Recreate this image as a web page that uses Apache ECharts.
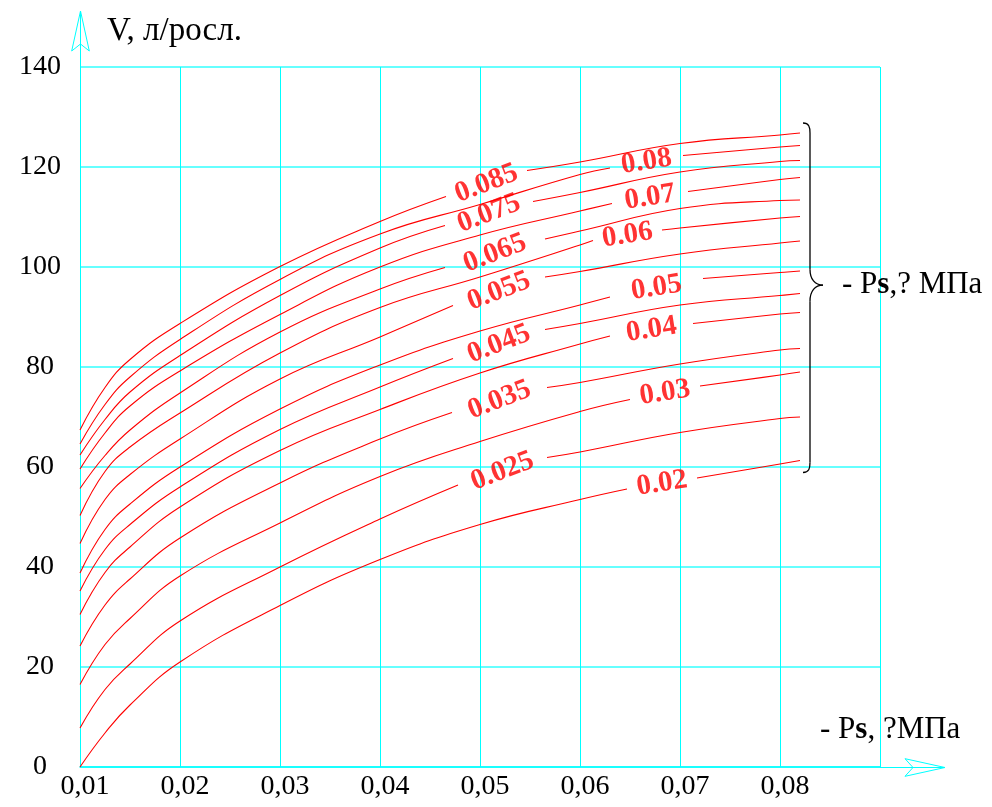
<!DOCTYPE html>
<html>
<head>
<meta charset="utf-8">
<script src="https://cdn.jsdelivr.net/npm/echarts@6/dist/echarts.min.js"></script>
<style>
  html, body { margin: 0; padding: 0; background: #ffffff; }
  #chart { width: 992px; height: 807px; }
</style>
</head>
<body>
<div id="chart"></div>
<script>
// Pressure Ps (MPa) along the horizontal axis where each curve is sampled
const X_POINTS = [0.01, 0.0125, 0.015, 0.02, 0.03, 0.04, 0.05, 0.06, 0.07, 0.08, 0.082];

// Curve levels (Ps, MPa)
const PS_LEVELS = ['0.02', '0.025', '0.03', '0.035', '0.04', '0.045', '0.05',
                   '0.055', '0.06', '0.065', '0.07', '0.075', '0.08', '0.085'];

// V, л/росл. for each level at X_POINTS
const V_020 = [0, 6.8, 12.4, 21.0, 32.3, 41.5, 48.5, 53.5, 57.0, 60.6, 61.3];
const V_025 = [7.8, 15.5, 20.6, 29.2, 40.0, 49.6, 57.7, 63.0, 66.9, 69.7, 70.0];
const V_030 = [16.5, 24.5, 29.7, 38.2, 48.8, 58.1, 65.1, 71.1, 75.6, 78.4, 79.0];
const V_035 = [24.2, 32.4, 37.6, 45.8, 56.8, 65.6, 72.3, 76.9, 80.6, 83.4, 83.7];
const V_040 = [30.5, 38.9, 44.0, 52.0, 63.3, 71.5, 78.8, 84.6, 88.4, 90.6, 90.9];
const V_045 = [35.2, 43.5, 48.5, 56.0, 67.5, 76.0, 83.3, 88.7, 92.4, 94.3, 94.7];
const V_050 = [38.8, 47.5, 52.6, 60.0, 71.6, 80.4, 87.2, 92.4, 97.0, 98.9, 99.2];
const V_055 = [44.7, 53.5, 58.5, 65.6, 77.6, 86.0, 93.9, 99.1, 102.6, 104.8, 105.2];
const V_060 = [50.3, 59.1, 64.0, 70.8, 82.8, 91.9, 98.0, 104.4, 107.8, 109.8, 110.1];
const V_065 = [55.7, 62.3, 67.4, 74.8, 87.0, 95.6, 101.8, 107.2, 111.7, 113.3, 113.4];
const V_070 = [59.6, 66.8, 72.2, 79.2, 90.5, 100.0, 106.4, 111.2, 114.9, 117.5, 117.9];
const V_075 = [62.4, 69.5, 75.0, 82.3, 94.3, 103.8, 110.2, 114.9, 119.0, 121.1, 121.3];
const V_080 = [64.6, 72.5, 78.0, 85.5, 97.5, 106.6, 112.5, 118.5, 122.2, 124.0, 124.3];
const V_085 = [67.4, 75.9, 81.5, 88.7, 100.1, 109.1, 116.2, 121.0, 124.7, 126.4, 126.8];

// Break in each curve where its label sits: [Ps start, V start, Ps end, V end]
const GAP_020 = [0.0647, 55.6, 0.0717, 57.8];
const GAP_025 = [0.0478, 56.4, 0.0567, 61.9];
const GAP_030 = [0.0650, 73.5, 0.0720, 76.2];
const GAP_035 = [0.0472, 70.9, 0.0567, 75.9];
const GAP_040 = [0.0630, 86.2, 0.0713, 88.7];
const GAP_045 = [0.0473, 81.7, 0.0565, 87.5];
const GAP_050 = [0.0630, 94.0, 0.0723, 97.7];
const GAP_055 = [0.0473, 92.3, 0.0565, 98.0];
const GAP_060 = [0.0613, 105.3, 0.0682, 107.4];
const GAP_065 = [0.0465, 99.9, 0.0565, 105.6];
const GAP_070 = [0.0632, 112.7, 0.0708, 115.1];
const GAP_075 = [0.0465, 108.3, 0.0553, 113.1];
const GAP_080 = [0.0630, 119.8, 0.0703, 122.3];
const GAP_085 = [0.0466, 114.1, 0.0547, 119.3];

// Axis ticks
const X_TICKS = [0.01, 0.02, 0.03, 0.04, 0.05, 0.06, 0.07, 0.08];
const Y_TICKS = [0, 20, 40, 60, 80, 100, 120, 140];

const CURVE_VALUES = [V_020, V_025, V_030, V_035, V_040, V_045, V_050,
                      V_055, V_060, V_065, V_070, V_075, V_080, V_085];
const CURVE_GAPS = [GAP_020, GAP_025, GAP_030, GAP_035, GAP_040, GAP_045, GAP_050,
                    GAP_055, GAP_060, GAP_065, GAP_070, GAP_075, GAP_080, GAP_085];

const CYAN = '#00ffff';
const CYAN_SOFT = '#66ffff';
const RED = '#ff0000';
const SERIF = '"Liberation Serif", "Times New Roman", serif';

const X_MIN = 0.01, X_MAX = 0.09, Y_MIN = 0, Y_MAX = 140;

const series = [];
const labelItems = [];
PS_LEVELS.forEach((ps, k) => {
  const vals = CURVE_VALUES[k];
  const gap = CURVE_GAPS[k];
  const pts = X_POINTS.map((x, i) => [x, vals[i]]);
  const left = pts.filter(p => p[0] < gap[0]).concat([[gap[0], gap[1]]]);
  const right = [[gap[2], gap[3]]].concat(pts.filter(p => p[0] > gap[2]));
  [left, right].forEach(seg => {
    series.push({
      type: 'line',
      data: seg,
      smooth: 0.45,
      symbol: 'none',
      silent: true,
      lineStyle: { color: RED, width: 1.1 },
      z: 3
    });
  });
  // Even-thousandth levels are labelled further right with a flatter tilt
  const oddLevel = k % 2 === 1;
  labelItems.push({
    value: [(gap[0] + gap[2]) / 2, (gap[1] + gap[3]) / 2],
    name: ps,
    label: { rotate: oddLevel ? 21 : 9 }
  });
});

series.push({
  type: 'scatter',
  data: labelItems,
  symbolSize: 0,
  silent: true,
  z: 5,
  label: {
    show: true,
    position: 'inside',
    formatter: p => p.name,
    color: RED,
    fontFamily: SERIF,
    fontWeight: 'bold',
    fontSize: 29
  }
});

const chart = echarts.init(document.getElementById('chart'), null, { renderer: 'canvas' });

const option = {
  animation: false,
  backgroundColor: '#ffffff',
  grid: { left: 80, right: 112, top: 67, bottom: 40, containLabel: false },
  xAxis: {
    type: 'value',
    min: X_MIN, max: X_MAX, interval: 0.01,
    axisLine: { show: true, lineStyle: { color: CYAN, width: 1.5 } },
    axisTick: { show: false },
    splitLine: { show: true, lineStyle: { color: CYAN, width: 1 } },
    axisLabel: {
      color: '#000000', fontFamily: SERIF, fontSize: 28, margin: 6,
      padding: [0, 0, 0, 10],
      formatter: v => {
        const hit = X_TICKS.find(t => Math.abs(t - v) < 1e-6);
        return hit === undefined ? '' : hit.toFixed(2).replace('.', ',');
      }
    }
  },
  yAxis: {
    type: 'value',
    min: Y_MIN, max: Y_MAX, interval: 20,
    axisLine: { show: true, lineStyle: { color: CYAN, width: 1 } },
    axisTick: { show: false },
    splitLine: { show: true, lineStyle: { color: CYAN_SOFT, width: 2 } },
    axisLabel: {
      color: '#000000', fontFamily: SERIF, fontSize: 28, margin: 40, align: 'center',
      formatter: v => (Y_TICKS.indexOf(v) >= 0 ? String(v) : '')
    }
  },
  series: series
};

chart.setOption(option);

// Decorations placed from the axes' own pixel mapping
const xEnd = chart.convertToPixel({ gridIndex: 0 }, [X_MAX, Y_MIN]);
const yEnd = chart.convertToPixel({ gridIndex: 0 }, [X_MIN, Y_MAX]);
const lastX = X_POINTS[X_POINTS.length - 1];
const topEnd = chart.convertToPixel({ gridIndex: 0 }, [lastX, V_085[V_085.length - 1]]);
const botEnd = chart.convertToPixel({ gridIndex: 0 }, [lastX, V_020[V_020.length - 1]]);

const xTip = [xEnd[0] + 65, xEnd[1] + 0.5];
const yTip = [yEnd[0] + 0.5, yEnd[1] - 56];

// Curly brace to the right of the curve ends
const bx = topEnd[0] + 3;
const bt = topEnd[1] - 10;
const bb = botEnd[1] + 12;
const bm = bt + 0.464 * (bb - bt);
const braceStyle = { stroke: '#000000', fill: 'none', lineWidth: 1.3 };
const brace = [
  { type: 'bezierCurve', shape: { x1: bx, y1: bt, cpx1: bx + 6, cpy1: bt, cpx2: bx + 7, cpy2: bt + 4, x2: bx + 7, y2: bt + 10 } },
  { type: 'line', shape: { x1: bx + 7, y1: bt + 10, x2: bx + 7, y2: bm - 16 } },
  { type: 'bezierCurve', shape: { x1: bx + 7, y1: bm - 16, cpx1: bx + 7, cpy1: bm - 6, cpx2: bx + 12, cpy2: bm, x2: bx + 20, y2: bm } },
  { type: 'bezierCurve', shape: { x1: bx + 20, y1: bm, cpx1: bx + 12, cpy1: bm, cpx2: bx + 7, cpy2: bm + 6, x2: bx + 7, y2: bm + 16 } },
  { type: 'line', shape: { x1: bx + 7, y1: bm + 16, x2: bx + 7, y2: bb - 10 } },
  { type: 'bezierCurve', shape: { x1: bx + 7, y1: bb - 10, cpx1: bx + 7, cpy1: bb - 4, cpx2: bx + 6, cpy2: bb, x2: bx, y2: bb } }
].map(el => Object.assign(el, { silent: true, z: 10, style: braceStyle }));

const unitRich = {
  a: { fontFamily: SERIF, fontSize: 31, color: '#000000' },
  b: { fontFamily: SERIF, fontSize: 31, fontWeight: 'bold', color: '#000000' }
};

chart.setOption({
  graphic: [
    // horizontal axis extension with open arrow
    { type: 'line', silent: true, z: 10,
      shape: { x1: xEnd[0], y1: xTip[1], x2: xTip[0], y2: xTip[1] },
      style: { stroke: CYAN, lineWidth: 1 } },
    { type: 'polygon', silent: true, z: 10,
      shape: { points: [xTip, [xTip[0] - 40, xTip[1] - 8.8], [xTip[0] - 32, xTip[1]], [xTip[0] - 40, xTip[1] + 8.8]] },
      style: { stroke: CYAN, fill: 'none', lineWidth: 1 } },
    // vertical axis extension with open arrow
    { type: 'line', silent: true, z: 10,
      shape: { x1: yTip[0], y1: yEnd[1], x2: yTip[0], y2: yTip[1] },
      style: { stroke: CYAN, lineWidth: 1 } },
    { type: 'polygon', silent: true, z: 10,
      shape: { points: [yTip, [yTip[0] - 8.8, yTip[1] + 40], [yTip[0], yTip[1] + 33], [yTip[0] + 8.8, yTip[1] + 40]] },
      style: { stroke: CYAN, fill: 'none', lineWidth: 1 } },
    // axis titles
    { type: 'text', silent: true, z: 10,
      x: yEnd[0] + 27, y: yEnd[1] - 36,
      style: { text: 'V, л/росл.', fontFamily: SERIF, fontSize: 33, fill: '#000000', verticalAlign: 'middle' } },
    { type: 'text', silent: true, z: 10,
      x: xEnd[0] - 60, y: xEnd[1] - 37,
      style: { text: '{a|- P}{b|s}{a|, ?МПа}', rich: unitRich, verticalAlign: 'middle' } },
    { type: 'text', silent: true, z: 10,
      x: bx + 39, y: bm,
      style: { text: '{a|- P}{b|s}{a|,? МПа}', rich: unitRich, verticalAlign: 'middle' } }
  ].concat(brace)
});
</script>
</body>
</html>
